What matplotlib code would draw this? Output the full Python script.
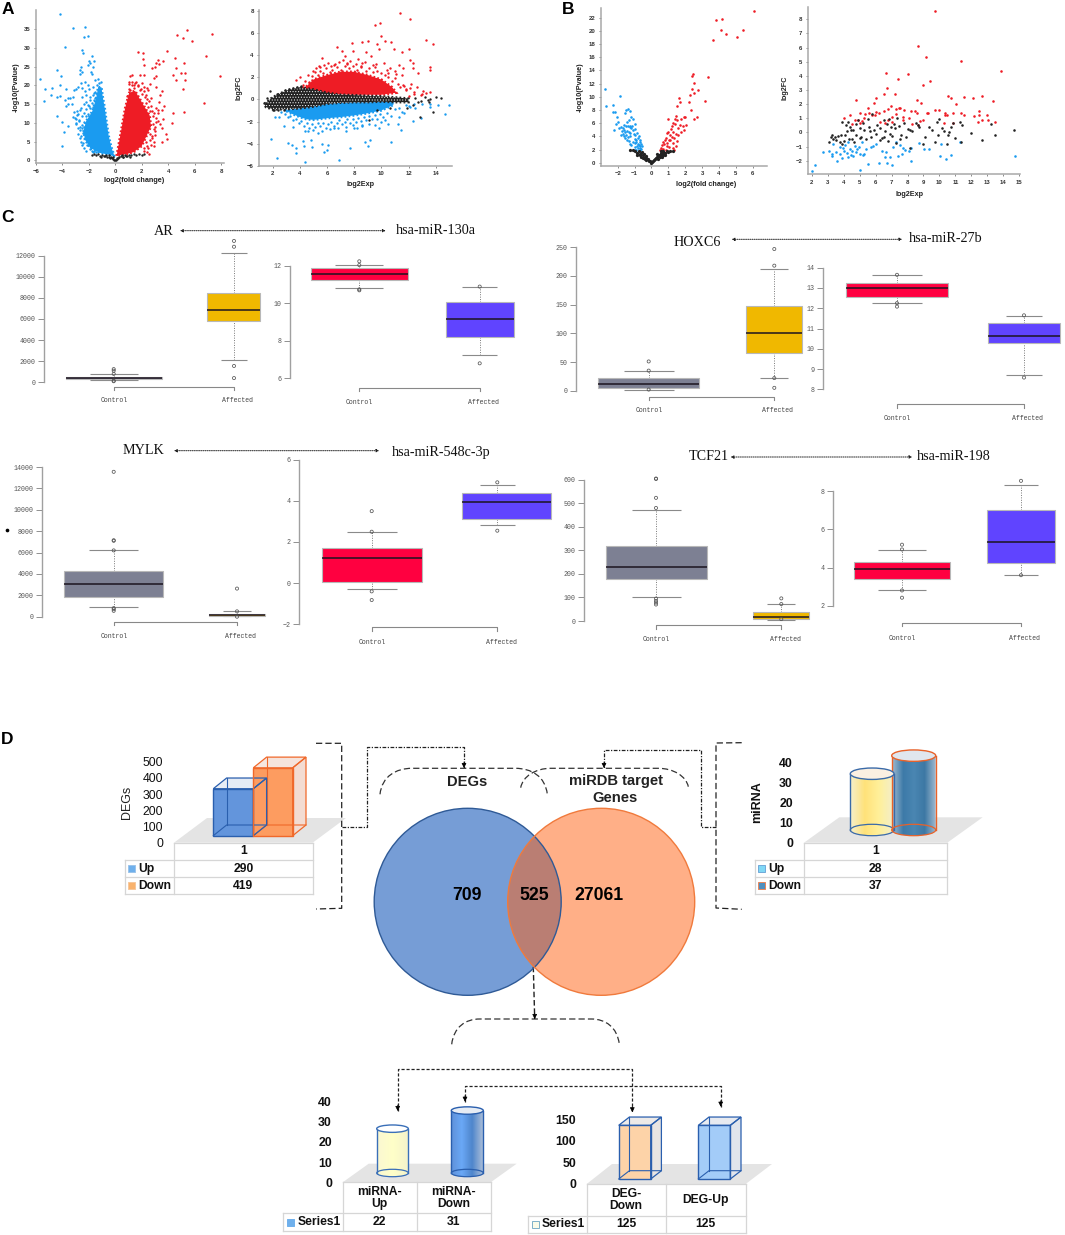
import numpy as np
import matplotlib
matplotlib.use('Agg')
import matplotlib.pyplot as plt
from matplotlib.patches import Polygon, Circle, Rectangle, Ellipse, PathPatch
from matplotlib.path import Path
from matplotlib.colors import LinearSegmentedColormap

W, H = 1065, 1235
RED, BLUE, BLACK = '#ee1c25', '#1a9bf0', '#222222'
SANS = 'Liberation Sans'
MONO = 'Liberation Mono'
SERIF = 'Liberation Serif'
plt.rcParams['hatch.linewidth'] = 0.4

# ---- panel A, volcano: dense cores are outlines, the rest single points
a_vol_blue_core = [(-0.05, 1), (-0.3, 3.5), (-0.5, 6.5), (-0.65, 10), (-0.8, 14), (-0.95, 17), (-1.05, 19.5), (-1.3, 19.5),
                   (-1.45, 16.5), (-1.75, 13), (-2.2, 10.5), (-2.4, 8), (-2.3, 5.5), (-1.9, 3.3), (-1.2, 2), (-0.5, 1.5)]
a_vol_blue_x = [-4.2, -3.2, -2.3, -2.4, -2.1, -3.8, -2.5, -2.45, -1.75, -2.0, -1.6, -1.9, -2.1, -2.6, -2.65, -1.7,
                -2.55, -4.4, -1.85, -1.8, -2.7, -4.1, -5.7, -1.5, -1.3, -2.3, -2.6, -2.1, -4.2, -3.7, -4.8, -5.3,
                -4.9, -4.4, -4.2, -5.4, -3.8, -3.6, -3.4, -3.2, -3.1, -3, -2.8, -2.5, -2.3, -2.2, -2, -1.7, -1.6,
                -1.9, -2.5, -3.6, -3.7, -3.3, -4.4, -4.0, -3.6, -3.9, -4, -2.9, -3.2, -3, -2.85, -2.8, -2.7, -2.6,
                -2.6, -2.4, -2.2, -2, -3.1, -2.9, -3.0, -2.75, -2.65, -2.5, -2.4, -2.2, -1.7, -1.5, -1.35,
                -3.05, -2.95, -2.85, -2.75, -2.7, -2.65, -2.6, -2.55, -2.5, -2.45, -2.45, -2.4, -2.35, -2.3, -2.25,
                -2.2, -2.15, -2.1, -2.05, -2, -1.95, -1.9, -1.85, -1.8, -1.75, -1.7, -1.65, -1.6, -1.55, -1.5, -1.45,
                -1.4, -2.55, -2.35, -2.15, -1.95, -1.75, -1.6, -1.45, -1.2, -1.1]
a_vol_blue_y = [39, 35.2, 35.5, 33, 33.2, 30.3, 29.5, 28.5, 27.8, 26.5, 26.5, 26, 25.5, 24.8, 24, 25,
                23.5, 24.2, 23.5, 23, 23, 22.5, 21.7, 21.5, 21.6, 21, 20.5, 20.2, 20.2, 19, 19.3, 19,
                17.3, 17, 17.2, 15.8, 16, 16.5, 16.7, 17, 18.8, 19, 19.5, 19.2, 18.5, 17.5, 19, 19.6, 18,
                17, 17, 15, 14.5, 15, 11.8, 10.3, 9.2, 7.6, 3.7, 12, 11.5, 10, 8.5, 7, 6, 5,
                14, 15, 15.5, 14.5, 12.8, 13.2, 11, 10.7, 9, 4, 3.2, 2.5, 2.2, 16.5, 20,
                11.4, 9.8, 12.3, 10.4, 8.2, 13.5, 6.4, 11.7, 9.4, 7.2, 4.6, 12.6, 10.2, 6, 13.8,
                11.8, 4, 14.8, 12.3, 9.5, 16.2, 13.9, 3.5, 15.2, 11.9, 17.4, 14.3, 16.1, 13.2, 18.3, 15.1,
                17.7, 8.7, 7.6, 6.7, 2.9, 2.6, 2.4, 2.2, 20.5, 21]
a_vol_red_core = [(0.1, 1.2), (0.45, 8), (0.75, 14), (1.05, 18), (1.5, 18.5), (2, 15.5), (2.6, 12), (2.7, 9),
                  (2.3, 6), (2, 3.8), (1.4, 2.2), (0.9, 1.7)]
a_vol_red_x = [5.4, 4.7, 7.3, 5.1, 5.8, 3.95, 1.75, 2.1, 6.9, 2.1, 4.55, 3.2, 3.1, 3.6, 3.3, 5.2, 2.2, 4.6, 3.0, 2.8,
               5, 5.3, 7.9, 1.3, 1.1, 1.9, 2.15, 3.1, 4.4, 2.9, 5.3, 4.6, 1.0, 1.5, 2, 2.6, 3.1, 3.5, 5.1, 3.4,
               2.5, 2.2, 6.7, 3.7, 3.5, 3.25, 5.2, 4.4, 4.3, 3.6, 3.1, 3.4, 3.5, 3.8, 3.9, 3.5, 2.9, 3, 2.55, 2.5,
               2.9, 3.2, 3.3, 2.7, 2.4, 1.4, 1.7, 2.3, 3.0, 2.75,
               0.9, 1.0, 1.05, 1.15, 1.25, 1.3, 1.45, 1.55, 1.7, 1.85, 1.95, 2.05, 2.15, 2.25, 2.3, 2.4, 2.45, 2.55,
               2.6, 2.7, 2.8, 2.85, 2.95, 3.05, 3.1, 3.2, 2.35, 2.6, 2.8, 2.2, 2.4, 2.65, 2.9, 2.15, 2.4, 2.7, 2.85, 3]
a_vol_red_y = [34.8, 33.5, 33.8, 32.7, 31.9, 29.2, 28.9, 28.5, 27.7, 27, 27.2, 26.7, 26, 26.5, 25.7, 26, 25.4, 24.5,
               24.9, 24.7, 23.4, 23.3, 22.5, 22.7, 22.5, 22.8, 22.8, 22.5, 22.8, 21.9, 21.3, 21.3, 21, 20.5, 20.5,
               20.3, 19.5, 18.5, 18.9, 17.5, 18.8, 19.5, 15.2, 14.5, 13.5, 13.3, 13, 12.7, 10, 11, 10.3, 9.7, 8.5,
               7, 5.8, 5, 5, 7.7, 1.7, 3.2, 3.9, 12.5, 15.5, 16.5, 19.2, 20.2, 20, 17.5, 9, 6,
               17.2, 19, 20.3, 18.8, 20, 21, 19.3, 20.8, 19.7, 18.7, 19, 17.6, 18.4, 16.9, 15.2, 16.3, 14.1, 15.8,
               13.2, 14.6, 13.1, 11.9, 12.7, 11.2, 13.9, 10.4, 4.8, 5.5, 6.4, 3.2, 3.9, 7.1, 8.3, 2.4, 2.2, 4.1, 9.6, 6.8]
a_vol_grey_x = [-1.8, -1.6, -1.45, -1.3, -1.15, -1, -0.85, -0.7, -0.6, -0.5, -0.4, -0.3, -0.25, -0.15, -0.1, 0,
                0.05, 0.15, 0.2, 0.3, 0.4, 0.5, 0.6, 0.75, 0.9, 1.05, 1.2, 1.4, 1.6, 1.8, 2.0, 2.2, -1.1, -0.8, -0.5,
                0.55, 0.8, 1.1, -0.2, 0.1]
a_vol_grey_y = [1.5, 1.7, 1.4, 1.6, 1.2, 1.5, 1.1, 1.5, 0.9, 1.3, 0.7, 1.0, 0.5, 0.3, 0.2, 0.1,
                0.2, 0.3, 0.6, 0.9, 1.1, 1.3, 0.9, 1.4, 1.1, 1.5, 1.3, 1.6, 1.4, 1.7, 1.5, 1.6, 0.9, 1.2, 0.8,
                0.9, 1.2, 0.9, 0.8, 0.5]

# ---- panel A, MA plot
a_ma_red_core = [(3.9, 0.9), (4.5, 1.2), (5, 1.8), (6, 2.2), (7, 2.5), (8, 2.5), (9, 2.2), (10, 1.8), (10.8, 1.1),
                 (11.1, 0.6), (10, 0.42), (8, 0.42), (6, 0.5), (4.5, 0.75)]
a_ma_grey_core = [(1.4, -0.4), (2, 0.2), (3, 0.8), (4, 1.1), (5, 0.9), (6, 0.6), (7, 0.42), (8, 0.38), (9, 0.32),
                  (10, 0.28), (11, 0.18), (12, 0.08), (12, -0.25), (11, -0.25), (10, -0.2), (9, -0.25), (8, -0.25),
                  (7, -0.3), (6, -0.4), (5, -0.65), (4, -0.8), (3, -0.9), (2, -0.9), (1.5, -0.7)]
a_ma_blue_core = [(2.9, -1.0), (4, -0.8), (5, -0.65), (6, -0.42), (7, -0.32), (8, -0.27), (9, -0.27), (10, -0.22),
                  (10.8, -0.25), (10.9, -0.5), (10, -1.0), (9, -1.25), (8, -1.45), (7, -1.6), (6, -1.7), (5, -1.85),
                  (4.5, -1.8), (4, -1.6), (3.4, -1.3)]
a_ma_red_x = [11.4, 12.1, 9.5, 9.93, 10, 10.3, 10.7, 13.3, 13.8, 7.85, 8.55, 9, 9.7, 6.75, 7.1, 7.9, 8.9, 9.85, 10.95,
              11.5, 12, 5.6, 7.3, 12.1, 12.3, 13.6, 13.55, 12.7, 12.35, 11.6, 11.5, 4, 3.75, 13.3, 11.8, 12, 12.4,
              13, 13.6, 5, 5.4, 6.1, 6.6, 7.2, 7.7, 8.3, 8.8, 9.2, 9.6, 10.2, 10.6, 11.1, 11.3, 4.6, 5.2, 5.8,
              6.3, 6.9, 7.5, 8.1, 8.6, 9.4, 10.4, 11, 11.7, 12.2, 12.9, 13.1,
              4.2, 4.4, 4.7, 4.9, 5.1, 5.3, 5.5, 5.7, 5.9, 6.2, 6.4, 6.7, 7, 7.3, 7.6, 7.9, 8.2, 8.5, 8.9, 9.1, 9.4,
              9.7, 10, 10.3, 10.5, 10.8, 11, 11.2, 11.4, 11.6, 11.8, 12.1, 12.4, 12.6, 5.5, 6.5, 7.5, 8.5, 9.5, 10.5]
a_ma_red_y = [7.85, 7.25, 6.7, 6.88, 5.75, 5.3, 5.2, 5.35, 5.05, 5.1, 5.2, 5.3, 5, 4.7, 4.4, 4.4, 4.25, 4.55, 4.55,
              4.3, 4.55, 3.75, 3.9, 3.55, 3.25, 2.9, 2.65, 2.4, 2.8, 2.85, 2.2, 2, 1.75, 0.55, 0.85, 0.3, 0.5,
              0.5, 0.7, 2.6, 3, 3.3, 3.2, 3.6, 3.5, 3.7, 3.4, 3.9, 3.2, 3.3, 2.8, 2.3, 3.1, 2.2, 2.8, 3.1,
              3, 3.4, 3.3, 3.2, 3.3, 3.1, 2.7, 2.6, 1.2, 1.4, 0.4, 0.75,
              1.3, 1.7, 1.6, 2.1, 2.5, 2.2, 2.6, 2.4, 2.8, 2.5, 2.7, 2.9, 2.7, 3, 2.8, 3, 2.7, 2.9, 2.6, 2.8, 2.5,
              2.6, 2.4, 2.2, 2.4, 1.7, 1.9, 1.4, 1.1, 1.3, 0.9, 1, 0.7, 1.1, 2.9, 3.1, 3.2, 3.05, 2.9, 2]
a_ma_blue_x = [2.35, 1.9, 4.4, 6.9, 6, 5.8, 4.9, 4.3, 3.7, 3.1, 3.4, 3.7, 4.2, 4.8, 5.6, 6.1, 7.7, 9.05, 9.15, 8.8,
               10.7, 11.45, 11.2, 12.3, 12.9, 13.6, 13.6, 14.2, 14.7, 14.95, 10, 10.5, 9.5, 8.2, 7.4, 6.5, 5.3, 4.6,
               3.5, 2.8, 2.5, 2.2, 12, 12.5, 13, 11.7, 11.3, 10.3, 9.8, 9.1, 8.6, 7.9,
               2.6, 2.9, 3.1, 3.3, 3.5, 3.7, 3.9, 4.1, 4.3, 4.5, 4.7, 4.9, 5.1, 5.3, 5.5, 5.7, 5.9, 6.1, 6.3, 6.5, 6.7,
               6.9, 7.1, 7.3, 7.5, 7.7, 7.9, 8.1, 8.3, 8.5, 8.7, 8.9, 9.1, 9.3, 9.5, 9.7, 9.9, 10.1, 10.4, 10.7, 11,
               11.3, 11.5, 11.8, 12.1, 12.4, 4.4, 5, 5.6, 6.2, 6.8, 7.4, 8, 8.6]
a_ma_blue_y = [-5.3, -3.55, -5.7, -5.45, -4.55, -4.75, -4.3, -4.2, -4.85, -3.95, -4.1, -4.4, -3.8, -3.7, -4, -4.1, -4.4,
               -4.25, -3.65, -3.85, -3.85, -2.75, -2.2, -1.95, -1.7, -0.7, -0.4, -0.5, -1.3, -0.55, -2, -2.2, -2.3,
               -2.6, -2.9, -2.6, -3, -2.9, -2.5, -2.4, -1.6, -1.55, -0.6, -0.8, -0.45, -1.2, -1.6, -1.9, -2.6, -2.2,
               -2.4, -2.3,
               -1.15, -1.35, -1.6, -1.5, -1.9, -1.75, -2.1, -1.95, -2.4, -2.15, -2.6, -2.25, -2.5, -2.15, -2.45, -2.1,
               -2.6, -2.2, -2, -2.4, -2.1, -1.85, -2.25, -2, -1.8, -2.15, -1.75, -2.05, -1.7, -1.95, -1.6, -1.85, -1.5,
               -1.8, -1.4, -1.75, -1.3, -1.6, -1.2, -1.5, -0.9, -0.75, -1.1, -0.5, -0.65, -0.45, -2.9, -2.75, -2.85,
               -2.7, -2.6, -2.5, -2.55, -2.35]
a_ma_grey_x = [1.8, 2, 12.5, 12.9, 13.2, 13.6, 14, 14.4, 12.7, 13.4, 13.8, 11.9, 12.3, 9.7, 9.1, 12.85, 10.6, 13.5,
               1.35, 1.6, 2.3, 2.6, 2.9, 3.2, 3.5, 3.8, 4.1, 2.1, 2.4, 2.8]
a_ma_grey_y = [0.8, -0.95, 0.1, -0.15, 0.2, 0.05, 0.2, 0.15, -0.25, -0.05, -1.1, -0.75, -0.5, -1, -1.9, -1.55, -0.75, -0.25,
               -0.35, 0.15, 0.5, 0.6, 0.85, 0.95, 1.05, 1.15, 1.2, -1, -0.95, -1]

# ---- panel B, volcano
b_vol_red_x = [6.1, 4.2, 3.85, 4.15, 5.4, 4.4, 5.05, 3.65, 2.45, 2.4, 3.35, 2.55, 2.4, 2.75, 2.55, 2.3, 3.15, 1.65, 1.7,
               1.5, 2.25, 2.35, 2.55, 2.7, 1.0, 1.4, 1.45, 1.5, 1.75, 1.9, 2.0, 2.05, 1.3, 1.15, 1.2, 1.4, 1.55,
               1.7, 1.85, 1.95, 1.0, 0.9, 1.1, 1.25, 1.45, 1.6, 1.75, 0.85, 1.05, 1.2, 1.35, 1.5, 0.7, 0.8, 0.95,
               1.1, 1.3, 1.45, 0.55, 0.65, 0.75, 0.9, 1.05, 1.25, 0.6, 0.7, 0.85, 1.35, 0.5]
b_vol_red_y = [23, 21.8, 21.6, 20.2, 20.1, 19.6, 19, 18.6, 13.4, 13.1, 13.05, 12.1, 11.2, 11, 10.6, 10.2, 9.4, 9.8, 9.2,
               8.6, 9.2, 8, 6.7, 7, 6.7, 6.7, 7.1, 6.5, 6.6, 6.9, 6.9, 5.7, 6, 5.1, 5.5, 5.9, 5.3, 5.7, 5.5, 5,
               4.7, 4.5, 4.2, 4.7, 4.4, 4.2, 4.6, 3.8, 3.5, 3.9, 3.8, 3.3, 3.2, 3.5, 3.0, 3.4, 3.0, 2.6, 2.3, 2.7,
               2.9, 2.6, 2.4, 2.2, 2.0, 2.1, 2.0, 2.0, 1.9]
b_vol_blue_x = [-2.75, -2.7, -2.3, -2.25, -2.15, -2.05, -1.85, -2.0, -2.1, -2.2, -1.5, -1.4, -1.3, -1.55, -1.2, -1.1,
                -1.35, -1.45, -1.6, -1.7, -1.8, -1.9, -1.25, -1.15, -1.0, -0.95, -1.5, -1.4, -1.3, -1.2, -1.1, -1.75,
                -1.65, -1.55, -1.45, -1.35, -1.25, -1.8, -1.7, -1.6, -1.5, -1.4, -1.3, -1.05, -0.95, -0.85, -0.75,
                -1.0, -0.9, -0.8, -0.7, -1.55, -1.45, -1.35, -1.1, -1.0, -0.9, -0.8, -0.7, -0.65, -0.6, -1.3, -1.2,
                -0.95, -0.85, -0.75, -0.65, -0.55, -0.9, -0.8, -0.7, -0.6, -1.0]
b_vol_blue_y = [11.2, 8.6, 8.7, 7.7, 7.7, 7.0, 10.1, 6.2, 5.8, 5, 8.0, 8.1, 7.9, 7.6, 7.0, 6.7, 6.5, 6.2, 5.7, 5.3, 5.4,
                5.2, 5.6, 5.5, 5.8, 5.1, 5.6, 5.5, 5.4, 5.2, 5.0, 4.8, 4.9, 4.7, 4.8, 4.6, 4.5, 4.2, 4.3, 4.1, 4.2,
                3.9, 4.0, 4.3, 4.2, 4.5, 4.1, 3.6, 3.5, 3.8, 3.4, 3.7, 3.4, 3.3, 3.2, 3.0, 3.1, 2.9, 3.1, 2.6, 2.8,
                2.9, 2.7, 2.4, 2.6, 2.7, 2.3, 2.5, 2.0, 2.2, 2.0, 2.1, 1.9]
b_vol_grey_x = [-1.3, -1.1, -0.95, -0.85, -0.75, -0.65, -0.55, -0.5, -0.45, -0.4, -0.35, -0.3, -0.25, -0.2, -0.15, -0.1,
                -0.05, 0, 0.05, 0.1, 0.15, 0.2, 0.25, 0.3, 0.35, 0.4, 0.45, 0.5, 0.55, 0.6, 0.65, 0.7, 0.8, 0.9, 1.0,
                1.1, 1.3, -0.7, -0.6, -0.5, -0.4, -0.3, 0.4, 0.5, 0.6, 0.7, 0.8, -0.85, -0.6, 0.35, 0.55, 0.75]
b_vol_grey_y = [1.9, 2.0, 1.7, 1.5, 1.8, 1.3, 1.6, 1.1, 1.3, 0.9, 1.0, 0.7, 0.6, 0.5, 0.3, 0.25, 0.1, 0.03, 0.1, 0.2, 0.4,
                0.5, 0.7, 0.75, 0.9, 1.0, 1.2, 1.1, 1.4, 1.2, 1.5, 1.7, 1.5, 1.7, 1.6, 1.8, 1.8, 1.2, 0.8, 0.7, 0.5,
                0.4, 0.6, 0.8, 0.9, 1.1, 1.1, 1.1, 1.4, 1.3, 1.7, 1.4]

# ---- panel B, MA plot
b_ma_red_x = [9.75, 8.65, 9.15, 11.35, 6.65, 8.05, 13.85, 7.4, 9.4, 9, 6.7, 6.5, 7.2, 4.75, 6, 5.9, 8.6, 8.85, 10.55,
              10.75, 11.55, 12.1, 12.65, 13.35, 11.05, 12.45, 12.15, 12.5, 13, 12.4, 12.65, 13.05, 13.5, 11.35, 11.55,
              10.35, 10.5, 10.35, 10.85, 9.7, 9.95, 9.2, 8.2, 8.45, 8.6, 7.25, 7.45, 7.55, 7.75, 6.95, 6.75, 6.5, 6,
              5.95, 6.2, 5.5, 5.05, 5.35, 5.6, 5.8, 4, 4.4, 4.7, 4.9, 5.15, 5.3, 7.3, 7.7, 8.1, 7.05, 6.8, 6.3, 6.6,
              7, 7.7, 8.3, 8.8, 9, 9.3, 10.3, 10.85, 4.5, 5.05, 8.65]
b_ma_red_y = [8.6, 6.1, 5.35, 5.05, 4.2, 4.1, 4.35, 3.8, 3.65, 3.35, 3.15, 2.75, 2.7, 2.3, 2.4, 2.05, 2.3, 2.05, 2.6,
              2.4, 2.5, 2.45, 2.55, 2.2, 2, 1.5, 1.15, 1.2, 1.2, 0.75, 0.85, 0.85, 0.75, 1.35, 1.2, 1.4, 1.25, 1.2,
              1.35, 1.6, 1.6, 1.35, 1.55, 1.55, 1.4, 1.65, 1.7, 1.75, 1.6, 1.9, 1.65, 1.5, 1.45, 1.25, 1.4, 1.7, 1.4,
              1.3, 1.35, 1.2, 1.05, 1.2, 0.9, 0.85, 0.8, 1, 1.3, 1.1, 1.05, 1.1, 0.9, 0.75, 0.65, 0.75, 0.85, 0.6,
              0.8, 0.9, 1.4, 0.7, 0.7, 0.6, 0.7, 0.55]
b_ma_blue_x = [2, 2.2, 2.7, 3.1, 3.25, 3.3, 3.35, 3.5, 3.6, 3.75, 3.8, 3.9, 3.95, 4, 4.1, 4.2, 4.25, 4.3, 4.4, 4.45,
               4.55, 4.6, 4.7, 4.8, 4.85, 4.95, 5, 5.05, 5.15, 5.2, 5.3, 5.4, 5.55, 5.7, 5.85, 6.05, 6.2, 6.4, 6.6,
               6.65, 6.7, 6.9, 7.05, 7.1, 7.3, 7.4, 7.5, 7.65, 7.7, 7.85, 8.1, 8.2, 8.2, 8.75, 9.05, 9.35, 10.05,
               10.1, 10.4, 10.7, 11.3, 14.75]
b_ma_blue_y = [-2.75, -2.3, -1.35, -1.3, -1.65, -1.55, -0.85, -1.4, -2.05, -1.55, -1, -1.8, -1.1, -1.3, -0.9, -1.45,
               -1.75, -0.7, -1.15, -1.6, -1.3, -1.7, -0.95, -1.4, -1.2, -1, -2.65, -1.55, -0.7, -1.6, -1.5, -1.15,
               -2.2, -1, -0.95, -0.85, -2.15, -1.3, -1.75, -1.4, -2.15, -1.75, -2.3, -1, -0.7, -1.65, -0.9, -1.55,
               -1.1, -1.25, -1.3, -1.1, -2, -0.75, -1.2, -1.2, -1.7, -0.85, -1.85, -1.6, -0.7, -1.7]
b_ma_grey_x = [3.1, 3.2, 3.3, 3.35, 3.45, 3.55, 3.65, 3.75, 3.85, 3.9, 4, 4.1, 4.15, 4.2, 4.3, 4.35, 4.4, 4.5, 4.6, 4.65,
               4.75, 4.8, 4.9, 5, 5.1, 5.2, 5.3, 5.4, 5.5, 5.6, 5.7, 5.8, 5.9, 6, 6.1, 6.3, 6.4, 6.5, 6.6, 6.7, 6.75,
               6.85, 6.95, 7.05, 7.15, 7.25, 7.35, 7.45, 7.6, 7.75, 7.9, 8.05, 8.15, 8.3, 8.55, 8.65, 8.75, 8.95, 9.1,
               9.35, 9.55, 9.7, 9.85, 10, 10.15, 10.3, 10.45, 10.55, 10.7, 10.85, 11, 11.3, 11.4, 12, 12.65, 13.25,
               13.45, 14.65, 3.9, 4.45, 5.05, 5.65, 6.25, 6.55, 6.9, 7.2, 7.55, 8.15, 9.9, 10.6, 11.35]
b_ma_grey_y = [-0.65, -0.3, -0.2, -0.5, -0.35, -0.55, -0.25, -0.7, -0.2, -0.85, -0.6, -0.2, 0.5, 0.1, 0.75, -0.45, 0.35, -0.5,
               0.2, -0.7, 0.6, -0.2, 0.85, 0.3, -0.35, 0.65, 0.15, -0.5, 0.95, 0.4, -0.3, 1.3, 0.2, -0.1, 0.55, 0.3,
               -0.4, 0.85, 0.1, 0.6, -0.6, 0.95, 0.35, -0.25, 0.6, -0.75, 1.0, 0.45, -0.2, 0.7, -0.35, 0.25, -1.1,
               0.1, 0.7, 0.5, 0.35, -0.8, -0.35, 0.4, 0.15, -0.7, 0.75, 0.95, 0.3, 0.1, -0.85, -0.2, 0.35, 0.7, -0.4,
               0.75, 0.55, -0.05, -0.55, 0.6, -0.2, 0.2, 0.75, 0.2, -0.4, 0.1, -0.55, -0.3, -0.1, 0.3, -0.45, 0.2,
               -0.15, 0.0, -0.65]

xtick_labels = ['Control', 'Affected']

# ---- panel C, boxes as [whisker low, q1, median, q3, whisker high]
ar_ctrl, ar_ctrl_out = [200, 350, 440, 520, 750], [100, 150, 800, 1100, 1250]
ar_aff, ar_aff_out = [2100, 5850, 6870, 8450, 12250], [400, 1550, 12850, 13400]
m130_ctrl, m130_ctrl_out = [10.8, 11.25, 11.55, 11.9, 12.05], [10.7, 10.75, 12.05, 12.25]
m130_aff, m130_aff_out = [7.27, 8.2, 9.15, 10.1, 10.88], [6.8, 10.9]
hox_ctrl, hox_ctrl_out = [2, 5, 11, 22, 34], [2, 35, 51]
hox_aff, hox_aff_out = [23, 66, 101, 147, 212], [5, 22, 218, 247]
m27_ctrl, m27_ctrl_out = [12.28, 12.55, 13.0, 13.25, 13.62], [12.08, 12.25, 13.65]
m27_aff, m27_aff_out = [8.72, 10.27, 10.62, 11.25, 11.62], [8.58, 11.65]
mylk_ctrl, mylk_ctrl_out = [870, 1850, 3020, 4250, 6200], [550, 700, 800, 6200, 7100, 7150, 13550]
mylk_aff, mylk_aff_out = [30, 80, 180, 270, 500], [0, 500, 2630]
m548_ctrl, m548_ctrl_out = [-0.3, 0.07, 1.2, 1.73, 2.47], [-0.82, -0.4, 2.5, 3.5]
m548_aff, m548_aff_out = [2.85, 3.1, 3.95, 4.4, 4.78], [2.55, 4.9]
tcf_ctrl, tcf_ctrl_out = [103, 178, 228, 318, 473], [70, 78, 85, 95, 480, 523, 603, 605]
tcf_aff, tcf_aff_out = [6, 8, 16, 40, 72], [8, 72, 96]
m198_ctrl, m198_ctrl_out = [2.8, 3.4, 3.95, 4.3, 4.93], [2.42, 2.8, 4.95, 5.2]
m198_aff, m198_aff_out = [3.6, 4.25, 5.33, 7.02, 8.33], [3.6, 8.55]

# ---- panel D
venn_labels = ['709', '525', '27061']
deg_rows, deg_vals = ['Up', 'Down'], [290, 419]
mirna_rows, mirna_vals = ['Up', 'Down'], [28, 37]
overlap_mirna_cats, overlap_mirna_vals = ['miRNA-\nUp', 'miRNA-\nDown'], [22, 31]
overlap_deg_cats, overlap_deg_vals = ['DEG-\nDown', 'DEG-Up'], [125, 125]

fig = plt.figure(figsize=(W / 100, H / 100), dpi=100)
fig.patch.set_facecolor('white')


def px_axes(x0, x1, ytop, ybot, xcal=None, ycal=None):
    """axes from a pixel box, limits from two calibration points (v0, p0, v1, p1)"""
    ax = fig.add_axes([x0 / W, 1 - ybot / H, (x1 - x0) / W, (ybot - ytop) / H])
    ax.patch.set_alpha(0)
    if xcal is None:
        ax.set_xlim(x0, x1)
    else:
        v0, p0, v1, p1 = xcal
        k = (v1 - v0) / (p1 - p0)
        ax.set_xlim(v0 + (x0 - p0) * k, v0 + (x1 - p0) * k)
    v0, p0, v1, p1 = ycal
    k = (v1 - v0) / (p1 - p0)
    ax.set_ylim(v0 + (ybot - p0) * k, v0 + (ytop - p0) * k)
    return ax


def scatter_axes(box, xcal, ycal, xticks, yticks):
    ax = px_axes(box[0], box[1], box[2], box[3], xcal, ycal)
    ax.spines['top'].set_visible(False)
    ax.spines['right'].set_visible(False)
    for s in ['left', 'bottom']:
        ax.spines[s].set_color('#a8a8a8')
        ax.spines[s].set_linewidth(1.1)
    ax.set_xticks(xticks)
    ax.set_yticks(yticks)
    ax.tick_params(length=1.5, width=0.6, color='#777777', labelsize=4.3, labelcolor='#333333', pad=2.5)
    for t in ax.get_xticklabels() + ax.get_yticklabels():
        t.set_fontfamily(SANS)
        t.set_fontweight('bold')
    return ax


def dots(ax, x, y, color, s=3.0):
    ax.scatter(x, y, s=s, c=color, linewidths=0, zorder=3, clip_on=False)


def core(ax, pts, color, speckle=False):
    # solid middle of a cloud, the dotted rim keeps the edge from looking cut out
    ax.add_patch(Polygon(pts, closed=True, fc=color, ec=color, lw=1.8, ls=(0, (0.7, 0.9)), zorder=2))
    if speckle:
        ax.add_patch(Polygon(pts, closed=True, fc='none', ec='white', lw=0, hatch='......', zorder=2.5))


# panel A
ax = scatter_axes((36, 224, 10, 163), (-6, 35.7, 8, 221), (0, 160.3, 35, 29), range(-6, 9, 2), range(0, 36, 5))
core(ax, a_vol_blue_core, BLUE)
core(ax, a_vol_red_core, RED)
dots(ax, a_vol_blue_x, a_vol_blue_y, BLUE)
dots(ax, a_vol_red_x, a_vol_red_y, RED)
dots(ax, a_vol_grey_x, a_vol_grey_y, BLACK)

ax = scatter_axes((259.3, 452.3, 10, 165.7), (2, 272.7, 14, 435.7), (-6, 165.7, 8, 11), range(2, 15, 2), range(-6, 9, 2))
core(ax, a_ma_red_core, RED)
core(ax, a_ma_blue_core, BLUE)
dots(ax, a_ma_red_x, a_ma_red_y, RED)
dots(ax, a_ma_blue_x, a_ma_blue_y, BLUE)
core(ax, a_ma_grey_core, BLACK, speckle=True)
dots(ax, a_ma_grey_x, a_ma_grey_y, BLACK)

# panel B
ax = scatter_axes((601, 767.3, 8.3, 165.7), (-2, 617.7, 6, 752.7), (0, 162.7, 22, 17.7), range(-2, 7), range(0, 23, 2))
dots(ax, b_vol_blue_x, b_vol_blue_y, BLUE, 3.4)
dots(ax, b_vol_red_x, b_vol_red_y, RED, 3.4)
dots(ax, b_vol_grey_x, b_vol_grey_y, BLACK, 5.5)

ax = scatter_axes((807.7, 1020, 6.7, 174), (2, 811.7, 15, 1019.3), (-2, 160.7, 8, 19.3), range(2, 16), range(-2, 9))
dots(ax, b_ma_red_x, b_ma_red_y, RED, 3.4)
dots(ax, b_ma_blue_x, b_ma_blue_y, BLUE, 3.4)
dots(ax, b_ma_grey_x, b_ma_grey_y, BLACK, 3.4)


def draw_box(ax, stats, out, cx, bl, br, cl, cr, color):
    lo, q1, med, q3, hi = stats
    ax.vlines(cx, lo, q1, color='#777777', lw=0.7, ls=(0, (1, 1.5)), zorder=1)
    ax.vlines(cx, q3, hi, color='#777777', lw=0.7, ls=(0, (1, 1.5)), zorder=1)
    ax.hlines([lo, hi], cl, cr, color='#8a8a8a', lw=0.8, zorder=1)
    ax.add_patch(Rectangle((bl, q1), br - bl, q3 - q1, fc=color, ec='#b8b8b8', lw=0.8, zorder=2))
    ax.hlines(med, bl, br, color='#1c1420', lw=1.1, zorder=3)
    ax.scatter([cx] * len(out), out, s=5, facecolors='none', edgecolors='#555555', linewidths=0.55, zorder=4)


ov_items = []


def box_panel(spine, ycal, yticks, ctrl, aff, geom_c, geom_a, colors, top, bracket, label_y, lbl_x):
    right = max(geom_c[2], geom_a[2]) + 2
    ax = px_axes(spine, right, top, bracket - 1, None, ycal)
    for s in ['top', 'right', 'bottom']:
        ax.spines[s].set_visible(False)
    ax.spines['left'].set_color('#a0a0a0')
    ax.spines['left'].set_linewidth(1.0)
    ax.spines['left'].set_bounds(yticks[0], yticks[-1])
    ax.set_xticks([])
    ax.set_yticks(yticks)
    ax.tick_params(length=4, width=0.7, color='#909090', labelsize=4.8, labelcolor='#555555', pad=2)
    for t in ax.get_yticklabels():
        t.set_fontfamily(MONO)
    draw_box(ax, ctrl[0], ctrl[1], *geom_c, colors[0])
    draw_box(ax, aff[0], aff[1], *geom_a, colors[1])
    ov_items.append((geom_c[0], geom_a[0], bracket, label_y, lbl_x))


GREY_BOX, YEL, PINK, PURP = '#7d8093', '#f0b800', '#ff0040', '#6044ff'

box_panel(44.3, (0, 382.3, 12000, 255.7), [0, 2000, 4000, 6000, 8000, 10000, 12000], (ar_ctrl, ar_ctrl_out), (ar_aff, ar_aff_out),
          (113.7, 65.7, 162, 90, 138), (234, 207, 260.3, 220.7, 247.3), (GREY_BOX, YEL), 232, 386.7, 400.7, (113.7, 237.3))
box_panel(290, (6, 378.3, 12, 266), [6, 8, 10, 12], (m130_ctrl, m130_ctrl_out), (m130_aff, m130_aff_out),
          (359.3, 311, 407.7, 335, 383.3), (479.7, 446, 514.3, 461.7, 496.7), (PINK, PURP), 250, 387.7, 402, (359.3, 483))
box_panel(575.7, (0, 390.7, 250, 247.3), [0, 50, 100, 150, 200, 250], (hox_ctrl, hox_ctrl_out), (hox_aff, hox_aff_out),
          (648.7, 598.3, 699, 624, 674), (774.3, 746.3, 802.3, 760, 788.3), (GREY_BOX, YEL), 244, 396.7, 410.7, (648.7, 778))
box_panel(823.3, (8, 389.3, 14, 267.7), [8, 9, 10, 11, 12, 13, 14], (m27_ctrl, m27_ctrl_out), (m27_aff, m27_aff_out),
          (897, 846.3, 948, 871.7, 922.3), (1024, 988.3, 1059.7, 1006, 1041.7), (PINK, PURP), 260, 404.3, 418.7, (897, 1027.7))
box_panel(42.3, (0, 616.7, 14000, 467), [0, 2000, 4000, 6000, 8000, 10000, 12000, 14000], (mylk_ctrl, mylk_ctrl_out), (mylk_aff, mylk_aff_out),
          (113.7, 64, 163.3, 89, 138), (237, 209.3, 265, 223.3, 250.7), (GREY_BOX, YEL), 465, 621.7, 636.3, (113.7, 240.7))
box_panel(299.3, (-2, 624.3, 6, 459.7), [-2, 0, 2, 4, 6], (m548_ctrl, m548_ctrl_out), (m548_aff, m548_aff_out),
          (371.7, 321.7, 422.3, 346.7, 397.3), (497.3, 461.7, 551, 480, 515.3), (PINK, PURP), 458, 627, 643, (371.7, 501))
box_panel(584, (0, 621, 600, 479.7), [0, 100, 200, 300, 400, 500, 600], (tcf_ctrl, tcf_ctrl_out), (tcf_aff, tcf_aff_out),
          (656, 606.3, 706.7, 631.7, 681.3), (781.3, 753.3, 809, 767.3, 795.3), (GREY_BOX, YEL), 470, 625.3, 639.3, (656, 785))
box_panel(832.7, (2, 605.7, 8, 491.3), [2, 4, 6, 8], (m198_ctrl, m198_ctrl_out), (m198_aff, m198_aff_out),
          (902, 854.3, 949.7, 877.7, 926), (1021, 987.3, 1054.7, 1004, 1037.7), (PINK, PURP), 475, 622.7, 638.7, (902, 1024.3))


def cyl_path(x0, x1, yb, yt, ry):
    t = np.linspace(np.pi, 2 * np.pi, 40)
    cx, rx = (x0 + x1) / 2, (x1 - x0) / 2
    xs = np.r_[cx + rx * np.cos(t), x1, x0]
    ys = np.r_[yb + ry * np.sin(t), yt, yt]
    return Polygon(np.c_[xs, ys], closed=True)


def cylinder(ax, x0, x1, val, base, ry, side_cols, edge, top_fc, alpha=1.0):
    yb, yt = base, base + val
    cm = LinearSegmentedColormap.from_list('c', side_cols)
    g = np.linspace(0, 1, 64)[None, :]
    xl, yl = ax.get_xlim(), ax.get_ylim()
    im = ax.imshow(g, cmap=cm, extent=[x0, x1, yb - ry, yt], aspect='auto', alpha=alpha, zorder=2, origin='lower')
    clip = cyl_path(x0, x1, yb, yt, ry)
    clip.set_transform(ax.transData)
    im.set_clip_path(clip)
    ax.set_xlim(xl)
    ax.set_ylim(yl)
    cx, w = (x0 + x1) / 2, x1 - x0
    ax.add_patch(Ellipse((cx, yb), w, 2 * ry, fc='none', ec=edge, lw=0.9, zorder=3))
    ax.add_patch(Ellipse((cx, yt), w, 2 * ry, fc=top_fc, ec=edge, lw=1.0, zorder=4))
    ax.plot([x0, x0], [yb, yt], color=edge, lw=1.0, zorder=3)
    ax.plot([x1, x1], [yb, yt], color=edge, lw=1.0, zorder=3)


def bar3d(ax, x0, x1, val, base, dx, dy, front, side, edge, back_alpha=0.25):
    yb, yt = base, base + val
    ax.add_patch(Polygon([(x0 + dx, yb + dy), (x1 + dx, yb + dy), (x1 + dx, yt + dy), (x0 + dx, yt + dy)], fc=side,
                         alpha=back_alpha, ec='none', zorder=2))
    ax.add_patch(Polygon([(x1, yb), (x1 + dx, yb + dy), (x1 + dx, yt + dy), (x1, yt)], fc=side, ec='none', zorder=2))
    ax.add_patch(Polygon([(x0, yt), (x1, yt), (x1 + dx, yt + dy), (x0 + dx, yt + dy)], fc=side, alpha=0.7, ec='none', zorder=2))
    ax.add_patch(Polygon([(x0, yb), (x1, yb), (x1, yt), (x0, yt)], fc=front, ec='none', zorder=3))
    for seg in [[(x0, yb), (x0 + dx, yb + dy), (x1 + dx, yb + dy)], [(x0 + dx, yb + dy), (x0 + dx, yt + dy)]]:
        ax.plot(*zip(*seg), color=edge, lw=0.8, zorder=4)
    ax.add_patch(Polygon([(x0, yb), (x1, yb), (x1, yt), (x0, yt)], fc='none', ec=edge, lw=1.0, zorder=5))
    ax.add_patch(Polygon([(x1, yb), (x1 + dx, yb + dy), (x1 + dx, yt + dy), (x1, yt)], fc='none', ec=edge, lw=0.9, zorder=5))
    ax.add_patch(Polygon([(x0, yt), (x1, yt), (x1 + dx, yt + dy), (x0 + dx, yt + dy)], fc='none', ec=edge, lw=0.9, zorder=5))


def chart3d(x0, x1, ytop, ybot, ycal, yticks, bold):
    ax = px_axes(x0, x1, ytop, ybot, None, ycal)
    for s in ax.spines.values():
        s.set_visible(False)
    ax.set_xticks([])
    ax.set_yticks(yticks)
    ax.tick_params(length=0, pad=1.5, labelsize=8.8, labelcolor='#111111')
    for t in ax.get_yticklabels():
        t.set_fontfamily(SANS)
        t.set_fontweight('bold' if bold else 'normal')
    return ax


def floor(ax, pts, scale, zero_px):
    ax.add_patch(Polygon([(x, (zero_px - y) / scale) for x, y in pts], fc='#e4e4e4', ec='none', zorder=1))


# DEGs bars
s = 81 / 500
ax = chart3d(165, 350, 745, 845, (0, 842.7, 500, 761.7), [0, 100, 200, 300, 400, 500], False)
floor(ax, [(174, 842.7), (312.7, 842.7), (346, 818), (207, 818)], s, 842.7)
bar3d(ax, 213.3, 253.3, deg_vals[0], 7 / s, 13.3, 10.7 / s, '#6395dc', '#dfe6f2', '#2a5fae')
bar3d(ax, 253.3, 292.7, deg_vals[1], 7 / s, 13.3, 10.7 / s, '#fd9c60', '#f3dcd2', '#f0682a')

# miRNA cylinders
s = 2.01
ax = chart3d(795, 990, 745, 845, (0, 842.7, 40, 762.3), [0, 10, 20, 30, 40], True)
floor(ax, [(804, 842.7), (947.3, 842.7), (982.7, 817.3), (839.3, 817.3)], s, 842.7)
cylinder(ax, 850.3, 894, mirna_vals[0], 12.7 / s, 5.7 / s, ['#f6efcc', '#ffe27a', '#fff09a', '#f3eecb'], '#3a6aa8', '#fbf0e2')
cylinder(ax, 891.7, 935.7, mirna_vals[1], 12.7 / s, 5.7 / s, ['#9fb9cf', '#3d7aa8', '#4a86b2', '#3d78a4', '#9db8cf'], '#e8622a', '#e0e6ee')

# overlap cylinders
s = 2.015
ax = chart3d(334, 520, 1095, 1184, (0, 1182.3, 40, 1101.7), [0, 10, 20, 30, 40], True)
floor(ax, [(342.7, 1182.3), (490.7, 1182.3), (516.7, 1163.7), (368.7, 1163.7)], s, 1182.3)
cylinder(ax, 376.7, 408.3, overlap_mirna_vals[0], 9.3 / s, 3.7 / s, ['#fbf8d2', '#ffffc8', '#f4f2cc'], '#3a6fb8', '#ffffff')
cylinder(ax, 451.3, 483.3, overlap_mirna_vals[1], 9.3 / s, 3.7 / s, ['#5f90d8', '#6aa8f6', '#4f86cc', '#a8bcd8'], '#2a5fae', '#e6ecf4')

# overlap bars
s = 64.4 / 150
ax = chart3d(578, 775, 1110, 1185, (0, 1183.7, 150, 1119.3), [0, 50, 100, 150], True)
floor(ax, [(586.7, 1184), (745.7, 1184), (772, 1164), (612, 1164)], s, 1183.7)
bar3d(ax, 618.7, 650.7, overlap_deg_vals[0], 4.7 / s, 10.7, 8.3 / s, '#fdd3a8', '#e9e5e2', '#2a5fae')
bar3d(ax, 698.3, 730.3, overlap_deg_vals[1], 4.7 / s, 10.7, 8.3 / s, '#a3ccf8', '#e1e5ec', '#2a5fae')

# overlay in picture pixels for every label and connector
ov = fig.add_axes([0, 0, 1, 1], zorder=20)
ov.set_xlim(0, W)
ov.set_ylim(H, 0)
ov.axis('off')
ov.patch.set_alpha(0)


def txt(x, y, s, size=5, weight='normal', ha='center', family=SANS, color='black', rot=0):
    ov.text(x, y, s, fontsize=size, fontweight=weight, ha=ha, va='center', family=family, color=color, rotation=rot)


for letter, x, y in [('A', 2, 9), ('B', 562, 9), ('C', 1, 218), ('D', 1, 739)]:
    txt(x, y, letter, 12.5, 'bold', 'left')

for x, y, s_, rot in [(134, 181, 'log2(fold change)', 0), (16.7, 86.7, '-log10(Pvalue)', 90), (239.3, 87.7, 'log2FC', 90),
                      (360.3, 185, 'log2Exp', 0), (705.7, 185, 'log2(fold change)', 0), (580, 86.7, '-log10(Pvalue)', 90),
                      (785, 87.7, 'log2FC', 90), (909.7, 194.3, 'log2Exp', 0)]:
    txt(x, y, s_, 5.2, 'bold', rot=rot, color='#222222')

for cx, ax_x, br, ly, lbl in ov_items:
    ov.plot([cx, cx, ax_x, ax_x], [br + 3.5, br, br, br + 3.5], color='#888888', lw=0.8)
    txt(lbl[0], ly, xtick_labels[0], 4.7, family=MONO, color='#444444')
    txt(lbl[1], ly, xtick_labels[1], 4.7, family=MONO, color='#444444')

for name, nx, ny, a0, a1, ay, mir, mx, my in [
    ('AR', 153.7, 231.7, 180, 385.7, 230.7, 'hsa-miR-130a', 395.7, 230),
    ('HOXC6', 673.7, 242.7, 731.7, 902.3, 239.3, 'hsa-miR-27b', 909.3, 239),
    ('MYLK', 122.7, 451, 174, 379.3, 450.7, 'hsa-miR-548c-3p', 391.7, 452.7),
    ('TCF21', 688.3, 457, 730.7, 912.3, 457, 'hsa-miR-198', 917.3, 457),
]:
    txt(nx, ny, name, 10.2, ha='left', family=SERIF, color='#111111')
    txt(mx, my, mir, 10.2, ha='left', family=SERIF, color='#111111')
    ov.annotate('', xy=(a1, ay), xytext=(a0, ay),
                arrowprops=dict(arrowstyle='<|-|>', lw=0.7, ls=(0, (1, 1.2)), color='#222222', mutation_scale=4,
                                shrinkA=0, shrinkB=0))
ov.scatter([7.3], [530], s=7, c='black', linewidths=0)

# venn
c_blue = (467.7, 901.8)
c_orange = (601.2, 901.8)
R = 93.5
ov.add_patch(Circle(c_blue, R, fc='#769dd6', ec='none', zorder=1))
ov.add_patch(Circle(c_orange, R, fc='#ff6111', alpha=0.5, ec='none', zorder=2))
ov.add_patch(Circle(c_blue, R, fc='none', ec='#2f5a96', lw=1.0, zorder=3))
ov.add_patch(Circle(c_orange, R, fc='none', ec='#f07a3c', lw=1.0, zorder=3))
for x, lab in zip([467.3, 534, 599.3], venn_labels):
    ov.text(x, 895, lab, fontsize=12.7, fontweight='bold', ha='center', va='center', family=SANS, zorder=5)
txt(467.3, 781.7, 'DEGs', 10.6, 'bold', color='#222222')
txt(616, 781, 'miRDB target', 10.6, 'bold', color='#222222')
txt(615.3, 798.3, 'Genes', 10.6, 'bold', color='#222222')


def brace(x0, y0, x1, y1, top, round_w):
    verts = [(x0, y0), (x0 + 2, top + 8), (x0 + round_w * 0.5, top), (x0 + round_w, top), (x1 - round_w, top),
             (x1 - round_w * 0.5, top), (x1 - 2, top + 8), (x1, y1)]
    codes = [Path.MOVETO, Path.CURVE4, Path.CURVE4, Path.CURVE4, Path.LINETO, Path.CURVE4, Path.CURVE4, Path.CURVE4]
    ov.add_patch(PathPatch(Path(verts, codes), fc='none', ec='#333333', lw=0.9, ls=(0, (5, 2.5))))


brace(380, 794.3, 547.3, 794.3, 768.3, 32)
brace(520.7, 787.7, 688.3, 786.7, 768.3, 30)
brace(451.7, 1044.3, 619.3, 1044.3, 1019, 28)


def head(x, y):
    ov.annotate('', xy=(x, y), xytext=(x, y - 6),
                arrowprops=dict(arrowstyle='-|>', lw=0.5, color='black', mutation_scale=7, shrinkA=0, shrinkB=0))


def route(pts, ls, arrow=True, lw=0.9):
    ov.plot(*zip(*pts), color='#222222', lw=lw, ls=ls)
    if arrow:
        head(*pts[-1])


DASH = (0, (2.5, 1.5))
DOTDASH = (0, (3, 1.2, 1, 1.2))
# side brackets
route([(316, 743.3), (341.7, 743.3), (341.7, 908.3), (316, 909)], (0, (5, 2.5)), arrow=False)
route([(741.7, 742.7), (716, 743), (716, 908), (741.7, 909.3)], (0, (5, 2.5)), arrow=False)
route([(341.7, 826.7), (366.7, 826.7), (366.7, 746.7), (464, 746.7), (464, 768)], DOTDASH)
route([(716, 826.7), (700.7, 826.7), (700.7, 750), (604, 750), (604, 768)], DOTDASH)
route([(533.3, 966.7), (534.7, 1019)], (0, (4, 2)), lw=1.0)
route([(397.7, 1111), (397.7, 1069), (632.3, 1069), (632.3, 1112.3)], DASH)
head(397.7, 1111)
route([(465, 1101.7), (465, 1086), (720.7, 1086), (720.7, 1106.7)], DASH)
head(465, 1101.7)


def grid_table(xl, xm, xr, ys, cols, heads, rows, vals, keys, text_x, key_x, head_size=8.7):
    """xl: legend column left, xm: first data column, xr: right, ys: row edges"""
    c = '#d6d6d6'
    edges = [xm] + cols + [xr]
    for x in edges:
        ov.plot([x, x], [ys[0], ys[-1]], color=c, lw=0.9)
    ov.plot([xl, xl], [ys[1], ys[-1]], color=c, lw=0.9)
    ov.plot([xm, xr], [ys[0], ys[0]], color=c, lw=0.9)
    for y in ys[1:]:
        ov.plot([xl, xr], [y, y], color=c, lw=0.9)
    centers = [(edges[i] + edges[i + 1]) / 2 for i in range(len(edges) - 1)]
    for cx, h in zip(centers, heads):
        ov.text(cx, (ys[0] + ys[1]) / 2, h, fontsize=head_size, fontweight='bold', ha='center', va='center', family=SANS,
                color='#111111', linespacing=1.0)
    for i, (r, k) in enumerate(zip(rows, keys)):
        ym = (ys[i + 1] + ys[i + 2]) / 2
        ov.add_patch(Rectangle((key_x, ym - 3.5), 7, 7, fc=k[0], ec=k[1], lw=0.7))
        txt(text_x, ym, r, 8.7, 'bold', 'left', color='#111111')
        for cx, v in zip(centers, vals[i]):
            txt(cx, ym, str(v), 8.7, 'bold', color='#111111')


grid_table(125, 174, 312.7, [842.7, 860.3, 877.3, 894.3], [], ['1'], deg_rows, [[deg_vals[0]], [deg_vals[1]]],
           [('#6fb0ec', '#9cc4ea'), ('#f9b36e', '#f6c79c')], 138, 128.3)
grid_table(755, 804, 947.3, [842.7, 860.3, 877.3, 894.3], [], ['1'], mirna_rows, [[mirna_vals[0]], [mirna_vals[1]]],
           [('#7fd7f5', '#70a8d8'), ('#4f8fbf', '#e8855a')], 768.3, 758.3)
grid_table(283.3, 342.7, 490.7, [1182.3, 1213.3, 1231], [417], overlap_mirna_cats, ['Series1'],
           [overlap_mirna_vals], [('#6fb0ec', '#6fb0ec')], 297.3, 286.7)
grid_table(528.3, 586.7, 745.7, [1184, 1216, 1232.7], [665.7], overlap_deg_cats, ['Series1'],
           [overlap_deg_vals], [('#fbfbe8', '#7fb0c8')], 541.7, 531.7)
txt(126.7, 802.3, 'DEGs', 9, rot=90, color='#222222')
txt(757.3, 802.3, 'miRNA', 9, 'bold', rot=90, color='#111111')

fig.savefig('out.png', dpi=100, facecolor='white')
